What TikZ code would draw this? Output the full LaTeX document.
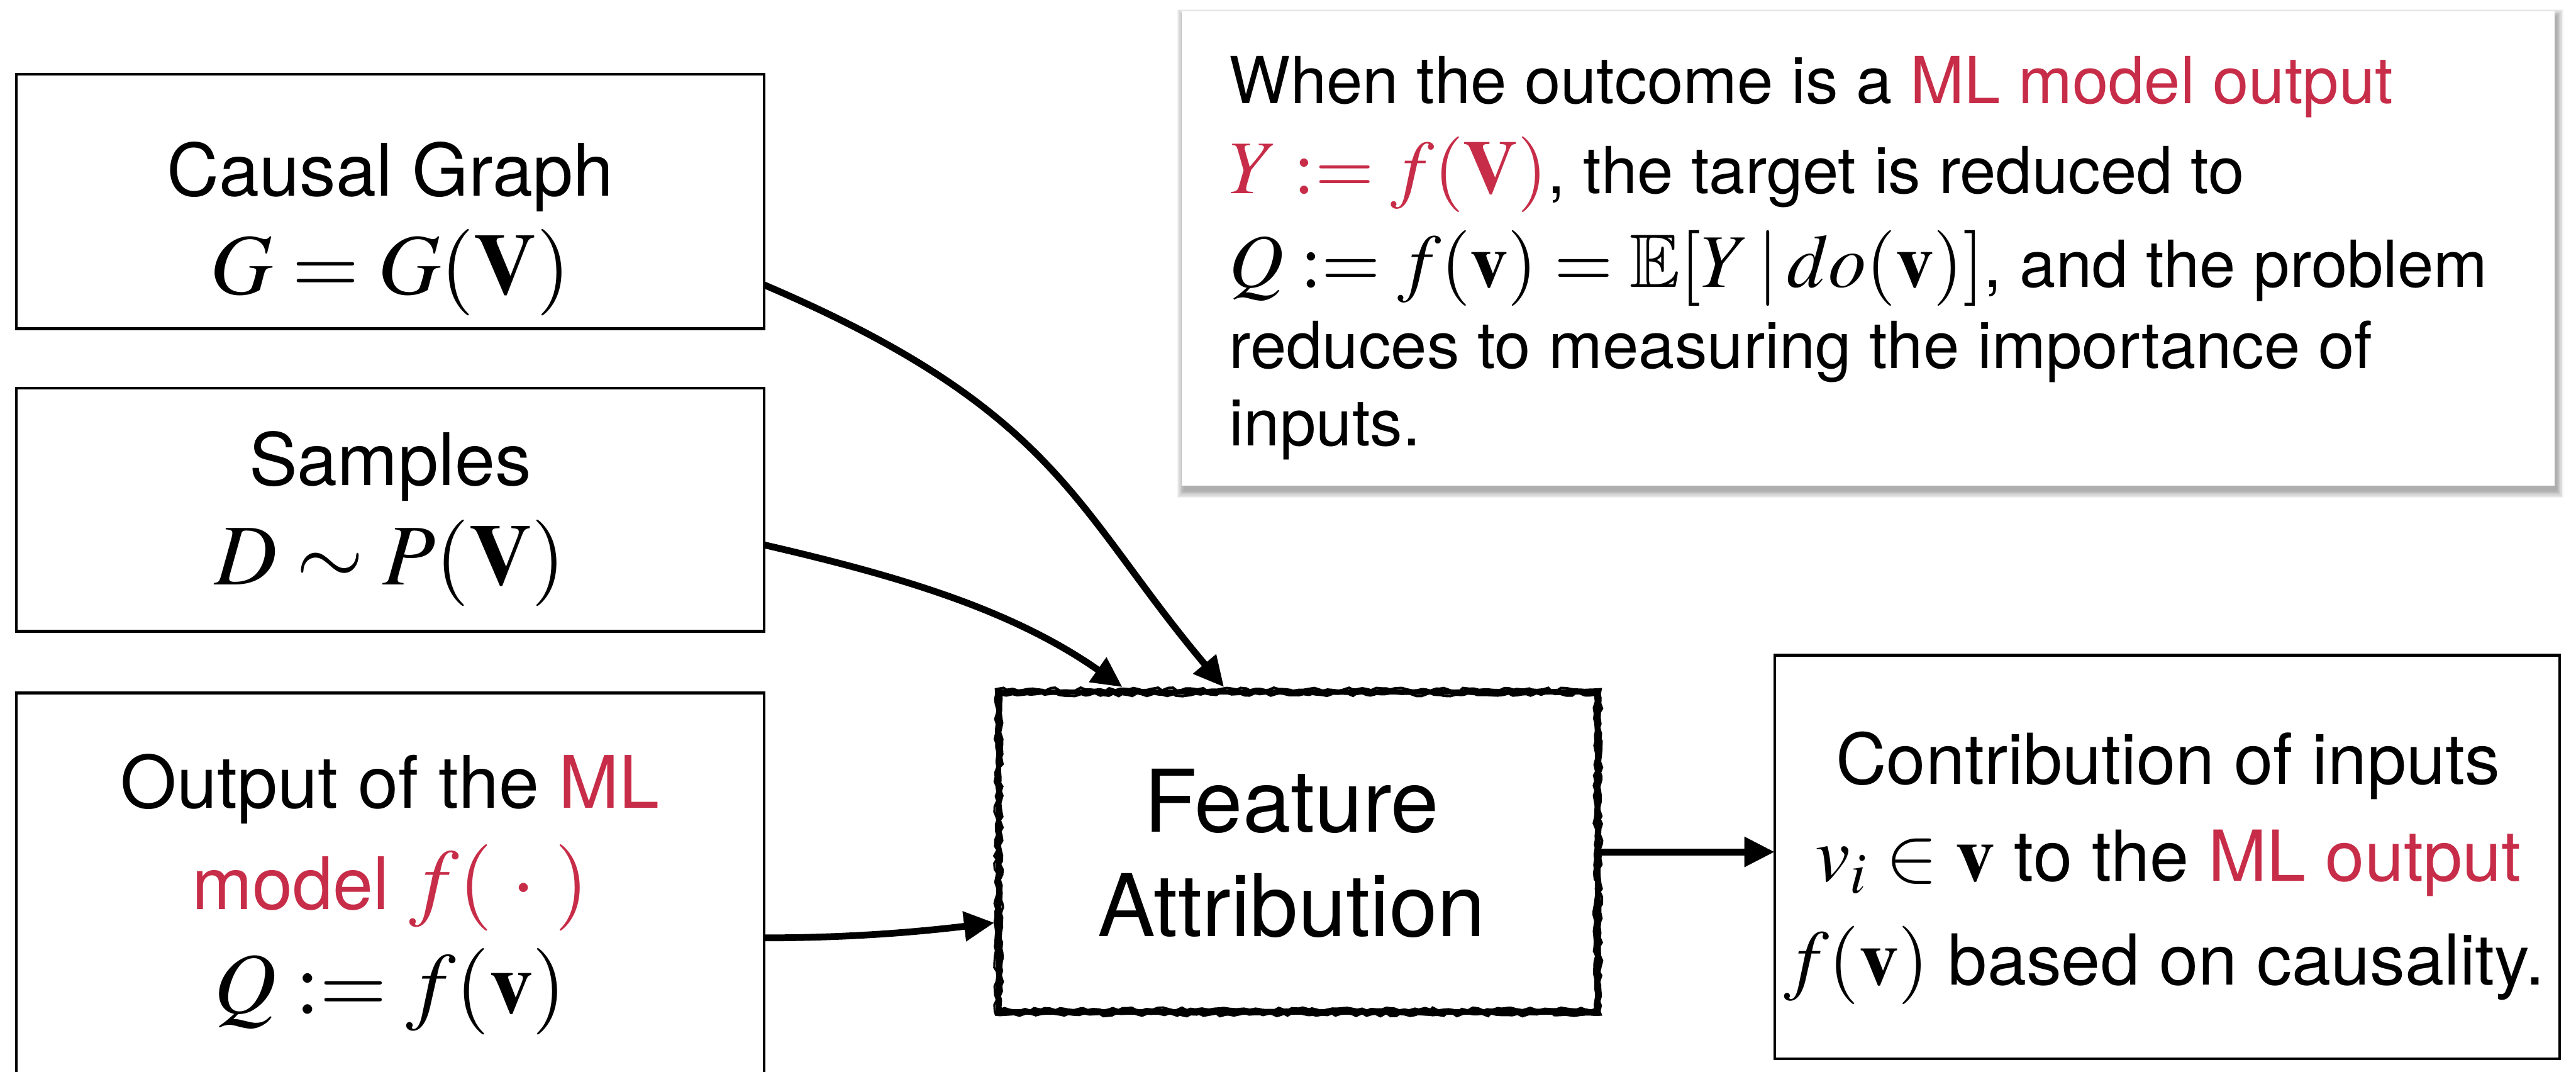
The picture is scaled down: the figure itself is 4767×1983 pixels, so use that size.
\documentclass[tikz,border=0pt]{standalone}
\usepackage{fontspec}
\usepackage{amssymb}
\usepackage{mathptmx}
\setmainfont{TeX Gyre Heros}
\usetikzlibrary{arrows.meta,calc,decorations.pathmorphing,backgrounds}
\definecolor{mlred}{RGB}{199,45,72}
\newcommand\mymath[2]{{\fontsize{#1}{#1}\selectfont$#2$}}
\pgfmathsetseed{7}
\begin{document}
\begin{tikzpicture}[x=0.1pt, y=-0.1pt,
  every node/.style={inner sep=0pt, outer sep=0pt},
  box/.style={draw, line width=0.5pt, rectangle, inner sep=0pt},
  lefttxt/.style={anchor=base, font=\fontsize{13.4}{16}\selectfont},
  fatxt/.style={anchor=base, font=\fontsize{16}{19}\selectfont},
  cttxt/.style={anchor=base, font=\fontsize{13}{16}\selectfont},
  notetxt/.style={anchor=base west, font=\fontsize{12}{15}\selectfont},
  arr/.style={line width=1.25pt, -{Triangle[length=5.6pt,width=5.3pt]}},
  rough/.style={line width=0.45pt, decorate, decoration={random steps, segment length=0.9pt, amplitude=0.3pt}}]
\useasboundingbox (0,0) rectangle (4767,1983);

% left input boxes
\node[box, minimum width=138.4pt, minimum height=47.1pt] (cg) at (722,372.5) {};
\node[lefttxt] (cgA) at (722,362) {Causal Graph};
\node[lefttxt] (cgB) at (722,544) {\mymath{16}{G = G(\mathbf{V})}};

\node[box, minimum width=138.4pt, minimum height=45pt] (sm) at (722,943) {};
\node[lefttxt] (smA) at (722,898) {Samples};
\node[lefttxt] (smB) at (722,1082) {\mymath{16}{D \sim P(\mathbf{V})}};

\node[box, minimum width=138.4pt, minimum height=78pt] (ml) at (722,1672) {};
\node[lefttxt] (mlA) at (722,1495) {Output of the \textcolor{mlred}{ML}};
\node[lefttxt] (mlB) at (722,1682) {\textcolor{mlred}{model \mymath{16}{f(\;\cdot\;)}}};
\node[lefttxt] (mlC) at (722,1874) {\mymath{16}{Q := f(\mathbf{v})}};

% feature attribution
\node[minimum width=110.9pt, minimum height=59.2pt] (fa) at (2402.5,1576) {};
\draw[line width=1.0pt] (fa.north west) rectangle (fa.south east);
\draw[rough] ($(fa.north west)+(-5,-5)$) rectangle ($(fa.south east)+(5,5)$);
\draw[rough] ($(fa.north west)+(5,5)$) rectangle ($(fa.south east)+(-5,-5)$);
\node[fatxt] (faA) at (2390,1539) {Feature};
\node[fatxt] (faB) at (2390,1732) {Attribution};

% contribution box
\node[box, minimum width=145.3pt, minimum height=74.7pt] (ct) at (4010.5,1585.5) {};
\node[cttxt] (ctA) at (4012,1451) {Contribution of inputs};
\node[cttxt] (ctB) at (4012,1630) {\mymath{14.5}{v_i \in \mathbf{v}} to the \textcolor{mlred}{ML output}};
\node[cttxt] (ctC) at (4005,1822) {\mymath{14.5}{f(\mathbf{v})} based on causality.};

% note box
\node[fill=white, minimum width=254.1pt, minimum height=87.7pt] (nb) at (3457.5,459.5) {};
\node[notetxt] (n1) at (2275,191) {When the outcome is a \textcolor{mlred}{ML model output}};
\node[notetxt] (n2) at (2275,358) {\textcolor{mlred}{\mymath{14}{Y := f(\mathbf{V})}}, the target is reduced to};
\node[notetxt] (n3) at (2275,531) {\mymath{14}{Q := f(\mathbf{v}) = \mathbb{E}[Y\,|\,do(\mathbf{v})]}, and the problem};
\node[notetxt] (n4) at (2275,681) {reduces to measuring the importance of};
\node[notetxt] (n5) at (2275,824) {inputs.};

\begin{pgfonlayer}{background}
\fill[white] (0,0) rectangle (4767,1983);
\foreach \k in {1,...,7}
  \fill[black, opacity=0.05] ($(nb.north west)+(-2*\k+5, -2*\k+10)$) rectangle ($(nb.south east)+(2*\k+2, 2*\k+9)$);
\end{pgfonlayer}

% connectors
\draw[arr] ($(cg.south east)+(0,-81)$) .. controls (1960,760) and (1990,945) .. ($(fa.north west)+(417,-9)$);
\draw[arr] ($(sm.south east)+(0,-160)$) .. controls (1661,1065) and (1872,1127) .. ($(fa.north west)+(229,-9)$);
\draw[arr] ($(ml.north east)+(0,453)$) .. controls (1567,1735) and (1690,1725) .. ($(fa.north west)+(-8,427)$);
\draw[arr] (fa.east) -- (fa.east -| ct.west);
\end{tikzpicture}
\end{document}
